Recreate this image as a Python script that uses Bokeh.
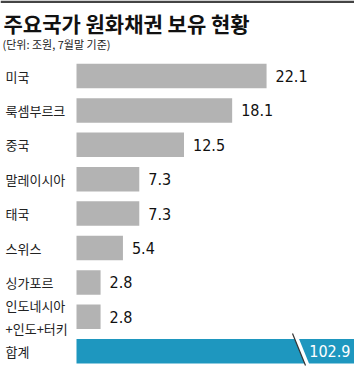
from bokeh.plotting import figure
from bokeh.models import Range1d, Label, ColumnDataSource
from bokeh.core.properties import value
from bokeh.embed import file_html
from bokeh.resources import INLINE

# ---- data ----
categories = ["미국", "룩셈부르크", "중국", "말레이시아", "태국", "스위스", "싱가포르", "인도네시아\n+인도+터키", "합계"]
values = [22.1, 18.1, 12.5, 7.3, 7.3, 5.4, 2.8, 2.8, 102.9]
value_labels = ["22.1", "18.1", "12.5", "7.3", "7.3", "5.4", "2.8", "2.8", "102.9"]
title_text = "주요국가 원화채권 보유 현황"
subtitle_text = "(단위: 조원, 7월말 기준)"

W, H = 354, 367
PX_PER_UNIT = 8.6
X0 = 76.0
x_start = -X0 / PX_PER_UNIT
x_end = (W - X0) / PX_PER_UNIT
Y0, PITCH = 75.5, 34.4
y_top = -Y0 / PITCH
y_bottom = (H - Y0) / PITCH

NUM_FONT = "DejaVu Sans Condensed"

p = figure(width=W, height=H, output_backend="svg", toolbar_location=None,
           x_range=Range1d(x_start, x_end), y_range=Range1d(y_bottom, y_top),
           min_border=0, min_border_left=0, min_border_right=0,
           min_border_top=0, min_border_bottom=0)
p.axis.visible = False
p.grid.visible = False
p.outline_line_color = None
p.background_fill_color = "white"
p.border_fill_color = "white"

n = len(categories)
idx = list(range(n))
cap = x_end  # broken axis: total bar runs to the edge
disp = [min(v, cap) for v in values]
colors = ["#b3b3b3"] * (n - 1) + ["#1e97bf"]

src = ColumnDataSource(dict(y=idx, right=disp, color=colors, cat=categories,
                            lab=value_labels, val=values))
p.hbar(y="y", left=0, right="right", height=0.712, fill_color="color",
       line_color=None, source=src)

# category labels
p.text(x=0, y="y", text="cat", source=src, x_offset=-71, text_align="left",
       text_baseline="middle", text_font=value("Noto Sans CJK KR"),
       text_font_size="13px", text_color="#222222", text_line_height=1.2)

# value labels (normal bars)
src_v = ColumnDataSource(dict(y=idx[:-1], x=values[:-1], lab=value_labels[:-1]))
p.text(x="x", y="y", text="lab", source=src_v, x_offset=9, text_align="left",
       text_baseline="middle", text_font=value(NUM_FONT),
       text_font_size="16px", text_color="#111111")

# total label (inside bar)
src_t = ColumnDataSource(dict(y=[idx[-1]], x=[disp[-1]], lab=[value_labels[-1]]))
p.text(x="x", y="y", text="lab", source=src_t, x_offset=-4, text_align="right",
       text_baseline="middle", text_font=value(NUM_FONT),
       text_font_size="16px", text_color="white")

# break mark on total bar
bx0 = (292 - X0) / PX_PER_UNIT
bx1 = (305 - X0) / PX_PER_UNIT
by0 = (333 - Y0) / PITCH
by1 = (365 - Y0) / PITCH
p.segment(x0=[bx0 + 0.25], y0=[by0], x1=[bx1 + 0.25], y1=[by1], line_color="white", line_width=4)
p.segment(x0=[bx0], y0=[by0], x1=[bx1], y1=[by1], line_color="#333333", line_width=1.2)

# top border line
p.quad(left=[x_start], right=[x_end], top=[y_top], bottom=[y_top + 2.5 / PITCH],
       fill_color="#444444", line_color=None)

# title & subtitle
p.add_layout(Label(x=3, y=H - 7, x_units="screen", y_units="screen", text=title_text,
                   text_font="Noto Sans CJK KR", text_font_style="bold",
                   text_font_size="21px", text_color="#111111", text_baseline="top"))
p.add_layout(Label(x=2, y=H - 35, x_units="screen", y_units="screen", text=subtitle_text,
                   text_font="Noto Sans CJK KR", text_font_size="11px",
                   text_color="#222222", text_baseline="top"))

open("out.html", "w").write(file_html(p, INLINE))
